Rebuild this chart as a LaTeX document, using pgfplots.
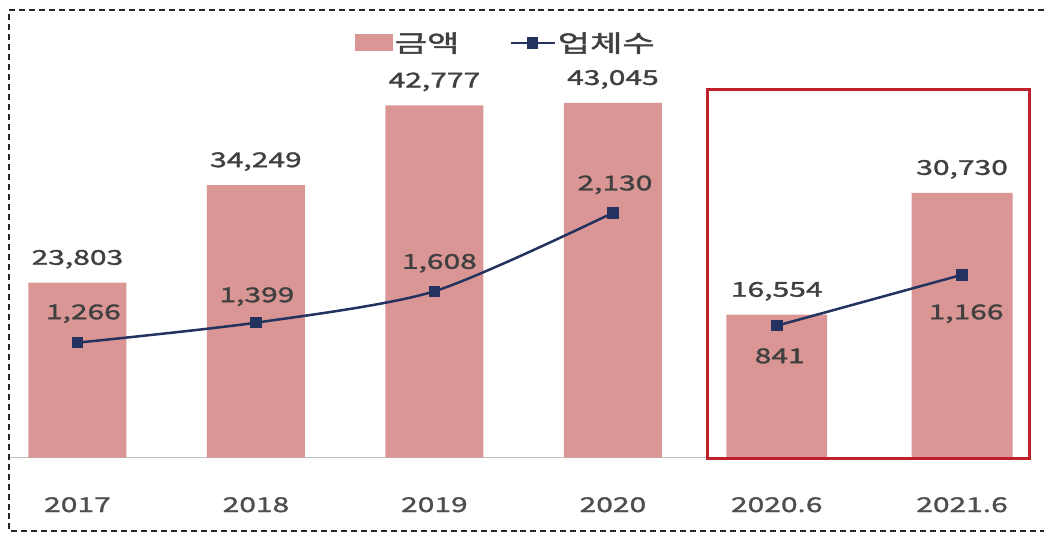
\documentclass[border=0pt]{standalone}
\usepackage{pgfplots}
\pgfplotsset{compat=1.18}
\usepackage{fontspec}
\setmainfont{Noto Sans CJK KR}[FakeStretch=1.47, FakeBold=1.6]
\definecolor{barpink}{RGB}{217,150,148}
\definecolor{linenavy}{RGB}{35,50,95}
\definecolor{boxred}{RGB}{190,35,45}
\definecolor{lbl}{RGB}{64,64,64}
\definecolor{tickc}{RGB}{78,78,78}
\pgfplotstableread{
x y
0 23803
1 34249
2 42777
3 43045
}\leftamt
\pgfplotstableread{
x y dx dy
0 1266 6 23.5
1 1399 1 20.5
2 1608 5 22.5
3 2130 2 22.5
}\leftcnt
\pgfplotstableread{
x y
0 16554
1 30730
}\rightamt
\pgfplotstableread{
x y dx dy
0 841 3 -37.5
1 1166 4 -44.5
}\rightcnt
\begin{document}
\begin{tikzpicture}
\begin{axis}[
  scale only axis, clip=false,
  width=1045bp, height=536bp,
  xmin=0, xmax=1045, ymin=-78, ymax=458,
  axis x line=bottom, axis y line=none,
  axis line style={draw=none},
  major tick length=0pt,
  xtick={77.5,256.2,434.8,613.5,777.5,963},
  xticklabels={2017,2018,2019,2020,2020.6,2021.6},
  xticklabel style={anchor=base, yshift=23.5bp, text=tickc, font=\fontsize{20.5}{20.5}\selectfont},
  /pgf/number format/assume math mode=true,
  /pgf/number format/1000 sep={,}, /pgf/number format/fixed, /pgf/number format/precision=0,
  point meta=explicit,
  nodes near coords={\pgfmathprintnumber{\pgfplotspointmeta}},
  legend columns=2,
  legend style={at={(0.3397,0.9198)}, anchor=west, draw=none, fill=none, inner sep=0pt,
    font=\fontsize{24}{24}\selectfont, text=lbl,
    /tikz/every even column/.append style={column sep=48bp}},
]
% frame (decoration)
\path (axis cs:0,-78) rectangle (axis cs:1045,458);
\draw[line width=2bp, dash pattern=on 6bp off 4bp, color=black!85]
  (axis cs:1045,448) -- (axis cs:9,448) -- (axis cs:9,-74) -- (axis cs:1045,-74);
\draw[line width=1bp, color=black!25] (axis cs:10,0) -- (axis cs:1030,0);
% left amounts
\addplot[ybar, bar shift=0pt, bar width=98bp, fill=barpink, draw=none,
  x filter/.expression={77.5+178.67*x},
  y filter/.expression={(y-5097)*0.009355},
  every node near coord/.append style={anchor=base, yshift=18bp, inner sep=0pt, text=lbl, font=\fontsize{20.5}{20.5}\selectfont},
  legend image code/.code={\fill[barpink] (0bp,-8.5bp) rectangle (38bp,8.5bp);}]
  table[x=x, y=y, meta=y] {\leftamt};
\addlegendentry{금액}
% right amounts
\addplot[ybar, bar shift=0pt, bar width=101bp, fill=barpink, draw=none, forget plot,
  x filter/.expression={777.5+185.5*x},
  y filter/.expression={(y+62)*0.008606},
  every node near coord/.append style={anchor=base, yshift=18bp, inner sep=0pt, text=lbl, font=\fontsize{20.5}{20.5}\selectfont}]
  table[x=x, y=y, meta=y] {\rightamt};
% left firm counts
\addplot[linenavy, line width=2.5bp, smooth, tension=0.45,
  mark=square*, mark size=4.5bp, mark options={fill=linenavy, draw=linenavy},
  x filter/.expression={77.5+178.67*x},
  y filter/.expression={(y-501.7)*0.15046},
  visualization depends on={\thisrow{dx} \as \ldx},
  visualization depends on={\thisrow{dy} \as \ldy},
  every node near coord/.append style={anchor=base, xshift=\ldx bp, yshift=\ldy bp, inner sep=0pt, text=lbl, font=\fontsize{20.5}{20.5}\selectfont},
  legend image code/.code={\draw[linenavy, line width=2.5bp] (0bp,0bp) -- (44bp,0bp); \fill[linenavy] (17.5bp,-4.5bp) rectangle (26.5bp,4.5bp);}]
  table[x=x, y=y, meta=y] {\leftcnt};
\addlegendentry{업체수}
% right firm counts
\addplot[linenavy, line width=2.5bp, forget plot,
  mark=square*, mark size=4.5bp, mark options={fill=linenavy, draw=linenavy},
  x filter/.expression={777.5+185.5*x},
  y filter/.expression={y*0.15692},
  visualization depends on={\thisrow{dx} \as \ldx},
  visualization depends on={\thisrow{dy} \as \ldy},
  every node near coord/.append style={anchor=base, xshift=\ldx bp, yshift=\ldy bp, inner sep=0pt, text=lbl, font=\fontsize{20.5}{20.5}\selectfont}]
  table[x=x, y=y, meta=y] {\rightcnt};
% highlight box
\draw[line width=3bp, color=boxred] (axis cs:708,368) rectangle (axis cs:1030,-1);
\end{axis}
\end{tikzpicture}
\end{document}
